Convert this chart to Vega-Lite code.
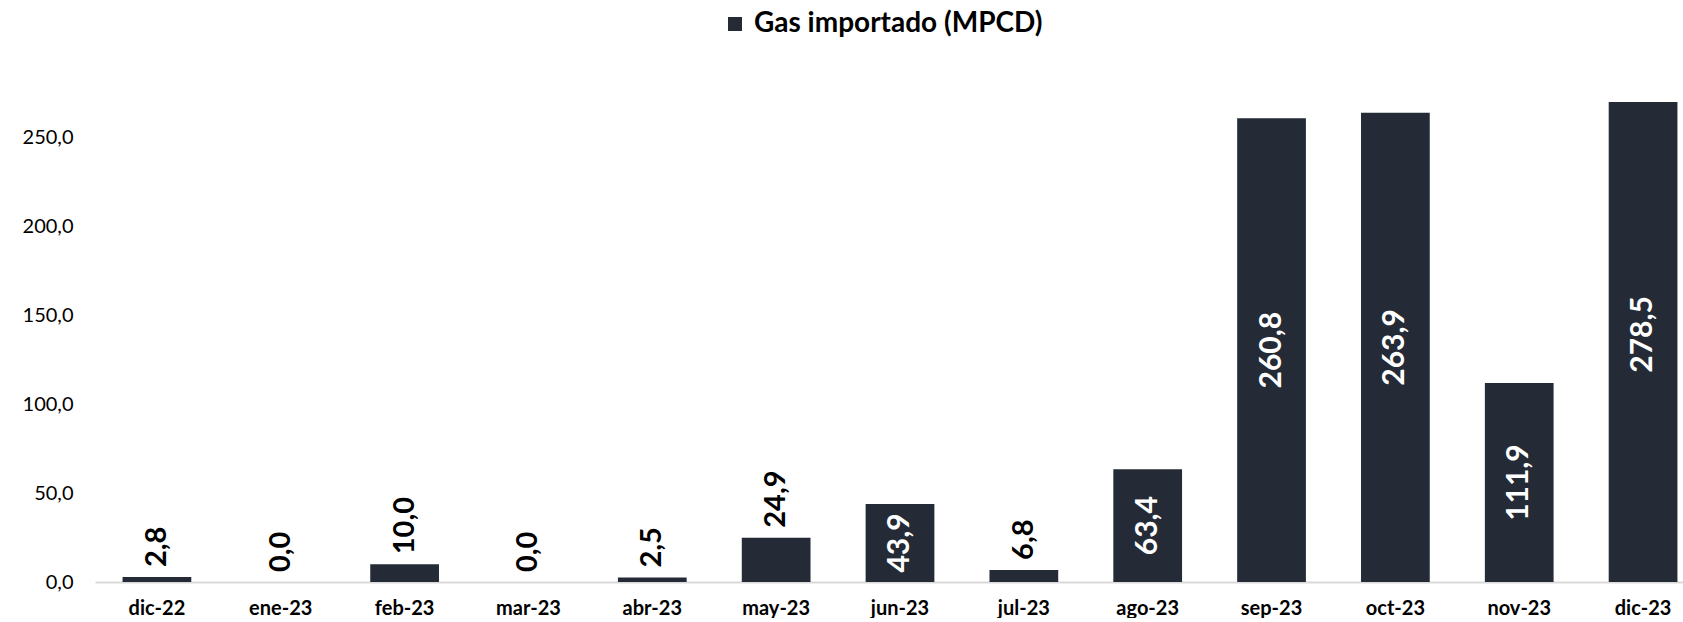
{
  "$schema": "https://vega.github.io/schema/vega-lite/v6.json",
  "width": 1610,
  "height": 480,
  "autosize": {"type": "pad"},
  "padding": {"left": 5, "top": 10, "right": 0, "bottom": 0},
  "config": {
    "view": {"stroke": null},
    "font": "Lato",
    "locale": {"number": {"decimal": ",", "thousands": ".", "grouping": [3], "currency": ["", " €"]}}
  },
  "data": {
    "values": [
      {"mes": "dic-22", "valor": 2.8, "serie": "Gas importado (MPCD)"},
      {"mes": "ene-23", "valor": 0.0, "serie": "Gas importado (MPCD)"},
      {"mes": "feb-23", "valor": 10.0, "serie": "Gas importado (MPCD)"},
      {"mes": "mar-23", "valor": 0.0, "serie": "Gas importado (MPCD)"},
      {"mes": "abr-23", "valor": 2.5, "serie": "Gas importado (MPCD)"},
      {"mes": "may-23", "valor": 24.9, "serie": "Gas importado (MPCD)"},
      {"mes": "jun-23", "valor": 43.9, "serie": "Gas importado (MPCD)"},
      {"mes": "jul-23", "valor": 6.8, "serie": "Gas importado (MPCD)"},
      {"mes": "ago-23", "valor": 63.4, "serie": "Gas importado (MPCD)"},
      {"mes": "sep-23", "valor": 260.8, "serie": "Gas importado (MPCD)"},
      {"mes": "oct-23", "valor": 263.9, "serie": "Gas importado (MPCD)"},
      {"mes": "nov-23", "valor": 111.9, "serie": "Gas importado (MPCD)"},
      {"mes": "dic-23", "valor": 278.5, "serie": "Gas importado (MPCD)"}
    ]
  },
  "encoding": {
    "x": {
      "field": "mes",
      "type": "nominal",
      "sort": null,
      "scale": {"paddingInner": 0.445, "paddingOuter": 0.2225},
      "axis": {
        "title": null,
        "labelAngle": 0,
        "ticks": false,
        "domainColor": "#d9d9d9",
        "domainWidth": 2,
        "labelFontSize": 20,
        "labelFontWeight": "bold",
        "labelColor": "#000000",
        "labelPadding": 16
      }
    }
  },
  "layer": [
    {
      "mark": {"type": "bar", "clip": true},
      "encoding": {
        "y": {
          "field": "valor",
          "type": "quantitative",
          "scale": {"domain": [0, 270], "nice": false},
          "axis": {
            "values": [0, 50, 100, 150, 200, 250],
            "format": ".1f",
            "title": null,
            "domain": false,
            "ticks": false,
            "grid": false,
            "labelFontSize": 20,
            "labelColor": "#000000",
            "labelPadding": 22,
            "minExtent": 90,
            "maxExtent": 90
          }
        },
        "color": {
          "field": "serie",
          "type": "nominal",
          "scale": {"range": ["#242b36"]},
          "legend": {
            "orient": "none",
            "legendX": 626,
            "legendY": -92,
            "title": null,
            "padding": 0,
            "symbolType": "square",
            "symbolSize": 196,
            "symbolStrokeWidth": 0,
            "labelFontSize": 28,
            "labelFontWeight": "bold",
            "labelColor": "#000000",
            "labelOffset": 5,
            "labelLimit": 600
          }
        }
      }
    },
    {
      "transform": [{"filter": "datum.valor < 40"}],
      "mark": {"type": "text", "angle": 270, "align": "left", "baseline": "middle", "dx": 10, "fontSize": 29, "fontWeight": "bold", "color": "#000000"},
      "encoding": {
        "y": {"field": "valor", "type": "quantitative", "scale": {"domain": [0, 270], "nice": false}, "axis": null},
        "text": {"field": "valor", "type": "quantitative", "format": ".1f"}
      }
    },
    {
      "transform": [{"filter": "datum.valor >= 40"}],
      "mark": {"type": "text", "angle": 270, "align": "center", "baseline": "middle", "fontSize": 30, "fontWeight": "bold", "color": "#ffffff"},
      "encoding": {
        "y": {"field": "valor", "type": "quantitative", "scale": {"domain": [0, 540], "nice": false}, "axis": null},
        "text": {"field": "valor", "type": "quantitative", "format": ".1f"}
      }
    }
  ],
  "resolve": {"scale": {"y": "independent"}}
}
